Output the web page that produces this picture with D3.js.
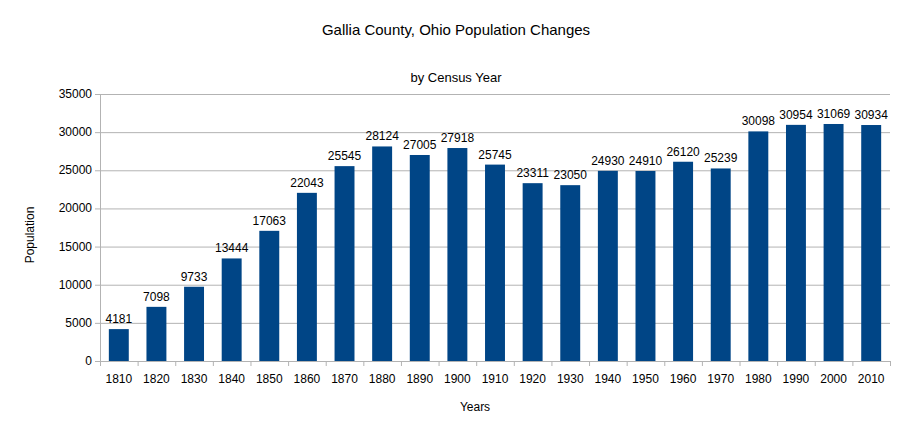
<!DOCTYPE html>
<html><head><meta charset="utf-8">
<script src="https://cdn.jsdelivr.net/npm/d3@7"></script>
<style>body{margin:0;background:#fff;font-family:"Liberation Sans",Arial,sans-serif}</style>
</head><body><div id="chart"></div>
<script>
var years = ["1810","1820","1830","1840","1850","1860","1870","1880","1890","1900","1910","1920","1930","1940","1950","1960","1970","1980","1990","2000","2010"];
var population = [4181,7098,9733,13444,17063,22043,25545,28124,27005,27918,25745,23311,23050,24930,24910,26120,25239,30098,30954,31069,30934];
var yTicks = [0,5000,10000,15000,20000,25000,30000,35000];

var svgWidth = 912, svgHeight = 432;
var margin = {top: 94, right: 22, bottom: 71, left: 100};
var w = svgWidth - margin.left - margin.right;
var h = svgHeight - margin.top - margin.bottom;

var svg = d3.select("#chart").append("svg")
    .attr("width", svgWidth).attr("height", svgHeight);
var g = svg.append("g").attr("transform", `translate(${margin.left},${margin.top})`);

var x = d3.scaleBand().domain(years).range([0, w]).paddingInner(0.47).paddingOuter(0.235);
var y = d3.scaleLinear().domain([0, 35000]).range([h, 0]);

g.selectAll(".grid").data(yTicks).enter().append("line")
    .attr("x1", 0).attr("x2", w)
    .attr("y1", d => y(d) + 0.5).attr("y2", d => y(d) + 0.5)
    .attr("stroke", "#b3b3b3");

g.selectAll("rect").data(years).enter().append("rect")
    .attr("x", d => x(d)).attr("width", x.bandwidth())
    .attr("y", (d, i) => y(population[i])).attr("height", (d, i) => h - y(population[i]))
    .attr("fill", "#004586");

g.selectAll(".val").data(years).enter().append("text")
    .attr("x", d => x(d) + x.bandwidth() / 2)
    .attr("y", (d, i) => y(population[i]) - 6)
    .attr("text-anchor", "middle").attr("font-size", 12).attr("fill", "#000")
    .text((d, i) => population[i]);

// y axis
g.append("line").attr("x1", 0.5).attr("x2", 0.5).attr("y1", 0).attr("y2", h).attr("stroke", "#b3b3b3");
g.selectAll(".ytick").data(yTicks).enter().append("line")
    .attr("x1", -5).attr("x2", 0).attr("y1", d => y(d) + 0.5).attr("y2", d => y(d) + 0.5).attr("stroke", "#b3b3b3");
g.selectAll(".ylab").data(yTicks).enter().append("text")
    .attr("x", -8).attr("y", d => y(d) + 4).attr("text-anchor", "end")
    .attr("font-size", 12).text(d => d);

// x axis
var step = w / years.length;
g.selectAll(".xtick").data(d3.range(years.length + 1)).enter().append("line")
    .attr("x1", d => d * step + 0.5).attr("x2", d => d * step + 0.5)
    .attr("y1", h).attr("y2", h + 5).attr("stroke", "#b3b3b3");
g.selectAll(".xlab").data(years).enter().append("text")
    .attr("x", d => x(d) + x.bandwidth() / 2).attr("y", h + 22)
    .attr("text-anchor", "middle").attr("font-size", 12).text(d => d);

svg.append("text").attr("x", 456).attr("y", 35).attr("text-anchor", "middle").attr("font-size", 15)
    .text("Gallia County, Ohio Population Changes");
svg.append("text").attr("x", 456).attr("y", 82).attr("text-anchor", "middle").attr("font-size", 13)
    .text("by Census Year");
svg.append("text").attr("x", 475).attr("y", 411).attr("text-anchor", "middle").attr("font-size", 12)
    .text("Years");
svg.append("text").attr("transform", "translate(34,235) rotate(-90)").attr("text-anchor", "middle")
    .attr("font-size", 12).text("Population");
</script></body></html>
